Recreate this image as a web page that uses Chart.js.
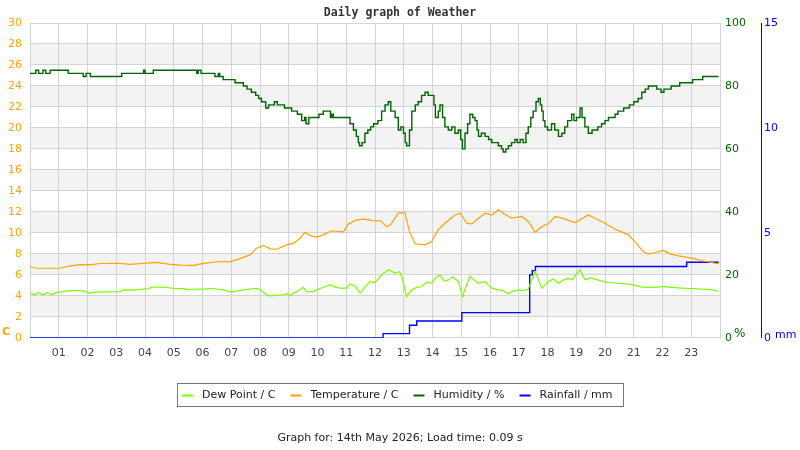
<!DOCTYPE html>
<html>
<head>
<meta charset="utf-8">
<title>Daily graph of Weather</title>
<script src="https://cdn.jsdelivr.net/npm/chart.js@4.4.1/dist/chart.umd.min.js"></script>
<style>
  html, body { margin: 0; padding: 0; background: #fff; }
  #wrap { width: 800px; height: 450px; }
</style>
</head>
<body>
<div id="wrap"><canvas id="chart" width="800" height="450"></canvas></div>
<script>
// x axis: hours of the day
const HOUR_LABELS = ['01','02','03','04','05','06','07','08','09','10','11','12',
  '13','14','15','16','17','18','19','20','21','22','23'];

// Dew point, C
const DEW_HOURS = [0,0.15,0.3,0.45,0.6,0.75,0.9,1.04,1.39,1.74,1.9,2.03,2.3,2.55,3.13,3.25,3.6,3.94,4.1,4.29,
  4.7,4.99,5.3,5.57,5.8,6.03,6.3,6.5,6.72,6.96,7.2,7.42,7.65,7.88,8.0,8.12,8.29,8.5,8.81,8.95,
  9.05,9.16,9.35,9.51,9.6,9.86,10.0,10.2,10.43,10.6,10.78,11.01,11.13,11.3,11.48,11.65,11.83,12.0,12.23,12.46,
  12.7,12.85,12.93,13.1,13.28,13.45,13.62,13.8,13.97,14.1,14.26,14.4,14.55,14.7,14.9,15.04,15.15,15.3,15.45,15.6,
  15.83,15.95,16.06,16.29,16.45,16.64,16.8,16.99,17.15,17.33,17.45,17.57,17.7,17.8,17.9,18.03,18.2,18.38,18.55,18.72,
  18.85,18.96,19.13,19.3,19.5,19.65,19.9,20.12,20.4,20.7,21.0,21.28,21.6,21.86,22.0,22.2,22.67,23.0,23.36,23.7,23.94];
const DEW_VALUES = [4.3,4.1,4.3,4.1,4.3,4.1,4.3,4.35,4.5,4.5,4.45,4.26,4.35,4.38,4.4,4.57,4.55,4.63,4.7,4.82,
  4.82,4.7,4.68,4.6,4.65,4.63,4.7,4.65,4.57,4.38,4.45,4.57,4.65,4.7,4.6,4.32,4.0,4.05,4.1,4.2,
  4.0,4.26,4.5,4.82,4.4,4.4,4.6,4.82,5.04,4.85,4.73,4.73,5.14,4.95,4.26,4.82,5.37,5.25,6.0,6.48,
  6.16,6.3,5.84,3.94,4.57,4.8,4.89,5.3,5.2,5.7,6.0,5.4,5.52,5.8,5.37,3.94,4.8,5.84,5.5,5.2,
  5.37,5.0,4.73,4.57,4.5,4.2,4.45,4.57,4.5,4.63,5.5,6.32,5.4,4.73,5.0,5.37,5.6,5.2,5.5,5.68,
  5.5,5.9,6.48,5.52,5.7,5.59,5.4,5.27,5.2,5.14,5.05,4.82,4.8,4.82,4.9,4.82,4.73,4.7,4.63,4.6,4.4];

// Temperature, C
const TEMP_HOURS = [0,0.1,0.25,1.04,1.39,1.74,2.09,2.43,3.13,3.48,3.94,4.4,4.87,5.22,5.68,6.03,6.61,6.96,7.3,7.65,
  7.88,8.12,8.35,8.58,8.93,9.16,9.39,9.57,9.74,9.97,10.2,10.49,10.9,11.07,11.36,11.6,11.94,12.2,12.4,12.55,
  12.81,13.04,13.2,13.4,13.74,13.97,14.2,14.43,14.78,14.96,15.19,15.36,15.6,15.83,16.06,16.29,16.46,16.75,17.1,17.33,
  17.57,17.8,18.03,18.26,18.49,18.96,19.42,19.65,20.0,20.35,20.81,21.04,21.33,21.5,21.74,22.03,22.26,22.55,23.01,23.36,23.95];
const TEMP_VALUES = [6.8,6.7,6.63,6.63,6.86,6.98,6.95,7.08,7.1,7.0,7.1,7.18,7.0,6.92,6.9,7.1,7.27,7.24,7.55,7.9,
  8.54,8.79,8.48,8.44,8.86,9.0,9.49,10.06,9.74,9.59,9.81,10.2,10.1,10.86,11.24,11.3,11.17,11.15,10.6,10.8,
  11.9,11.9,10.1,8.95,8.86,9.17,10.3,10.92,11.7,11.87,10.92,10.86,11.4,11.87,11.7,12.2,11.87,11.4,11.56,11.08,
  10.06,10.6,10.86,11.56,11.4,10.98,11.7,11.4,10.92,10.35,9.81,9.17,8.22,7.97,8.13,8.32,8.0,7.81,7.59,7.37,7.05];

// Humidity, %  (stepped readings)
const HUM_HOURS = [0,0.2,0.3,0.45,0.55,0.7,1.33,1.85,1.95,2.1,3.19,3.95,4.0,4.29,5.8,5.85,5.95,6.43,6.55,6.6,
  6.72,7.13,7.42,7.55,7.7,7.85,7.95,8.05,8.2,8.3,8.5,8.6,8.85,9.1,9.3,9.45,9.55,9.6,9.7,10.05,
  10.2,10.45,10.5,10.55,11.13,11.25,11.35,11.42,11.46,11.55,11.65,11.75,11.85,11.95,12.1,12.23,12.35,12.46,12.55,12.7,
  12.81,12.9,12.99,13.05,13.1,13.2,13.28,13.4,13.5,13.62,13.74,13.85,14.05,14.1,14.2,14.26,14.35,14.43,14.55,14.67,
  14.78,14.9,14.98,15.04,15.13,15.22,15.3,15.4,15.48,15.55,15.6,15.7,15.83,15.95,16.06,16.29,16.4,16.46,16.55,16.64,
  16.75,16.87,16.95,17.05,17.15,17.25,17.33,17.42,17.5,17.6,17.68,17.75,17.8,17.85,17.91,18.0,18.14,18.25,18.38,18.5,
  18.6,18.7,18.84,18.92,19.01,19.13,19.2,19.3,19.42,19.55,19.75,19.88,20.0,20.12,20.35,20.45,20.65,20.85,21.0,21.15,
  21.28,21.4,21.51,21.8,21.95,22.05,22.3,22.6,23.05,23.4,23.95];
const HUM_VALUES = [84,85,84,85,84,85,84,83,84,83,84,85,84,85,84,85,84,83,84,83,
  82,81,80,79,78,77,76,75,73,74,75,74,73,72,71,69,70,68,70,71,
  72,70,71,70,68,66,64,62,61,62,65,66,67,68,69,72,74,75,72,70,
  66,67,65,62,61,66,72,74,75,77,78,77,74,70,72,74,70,67,66,67,
  65,66,63,60,65,68,71,70,69,66,64,65,64,63,62,61,60,59,60,61,
  62,63,62,63,62,65,67,70,72,75,76,74,72,69,67,66,68,66,64,65,
  67,69,71,69,70,73,70,67,65,66,67,68,69,70,71,72,73,74,75,76,
  78,79,80,79,78,79,80,81,82,83,83];

// Rainfall, mm (cumulative)
const RAIN_HOURS = [0,12.28,13.2,13.45,15.02,17.38,17.47,17.58,22.84,23.95];
const RAIN_VALUES = [0,0.2,0.6,0.8,1.2,3.0,3.2,3.4,3.6,3.6];

function toPoints(xs, ys){
  return xs.map((x, i) => ({ x: x, y: ys[i] }));
}

const GRID = '#d4d4d4';
const FONT = { family: 'DejaVu Sans', size: 11 };

// bands, unit labels and the boxed legend
const decor = {
  id: 'decor',
  beforeDraw(chart){
    const ctx = chart.ctx, a = chart.chartArea, y = chart.scales.y;
    ctx.save();
    ctx.fillStyle = '#fff';
    ctx.fillRect(0, 0, chart.width, chart.height);
    ctx.fillStyle = '#f3f3f3';
    for(let v = 2; v < 30; v += 4){
      const t = y.getPixelForValue(v + 2), b = y.getPixelForValue(v);
      ctx.fillRect(a.left, t, a.right - a.left, b - t);
    }
    ctx.restore();
  },
  afterDraw(chart){
    const ctx = chart.ctx;
    ctx.save();
    ctx.textBaseline = 'middle';
    ctx.textAlign = 'left';
    ctx.font = 'bold 11px "DejaVu Sans"';
    ctx.fillStyle = '#ffa500';
    ctx.fillText('C', 2, 332);
    ctx.font = '12px "DejaVu Sans"';
    ctx.fillStyle = '#006400';
    ctx.fillText('%', 734, 334);
    ctx.font = '11px "DejaVu Sans"';
    ctx.fillStyle = '#0000ff';
    ctx.fillText('mm', 775, 335);

    // legend
    ctx.strokeStyle = '#777';
    ctx.lineWidth = 1;
    ctx.strokeRect(177.5, 383.5, 446, 23);
    let x = 182;
    const cy = 395.5;
    ctx.font = '11px "DejaVu Sans"';
    chart.data.datasets.forEach(ds => {
      ctx.fillStyle = ds.borderColor;
      ctx.fillRect(x, cy - 1, 11, 2);
      x += 20;
      ctx.fillStyle = '#222';
      ctx.fillText(ds.label, x, cy);
      x += ctx.measureText(ds.label).width + 15;
    });
    ctx.restore();
  }
};

new Chart(document.getElementById('chart'), {
  type: 'line',
  data: {
    datasets: [
      { label: 'Dew Point / C', data: toPoints(DEW_HOURS, DEW_VALUES), yAxisID: 'y',
        borderColor: '#7cfc00', backgroundColor: '#7cfc00', borderWidth: 1.2 },
      { label: 'Temperature / C', data: toPoints(TEMP_HOURS, TEMP_VALUES), yAxisID: 'y',
        borderColor: '#ffa500', backgroundColor: '#ffa500', borderWidth: 1.2 },
      { label: 'Humidity / %', data: toPoints(HUM_HOURS, HUM_VALUES), yAxisID: 'yHum', stepped: true,
        borderColor: '#006400', backgroundColor: '#006400', borderWidth: 1.4 },
      { label: 'Rainfall / mm', data: toPoints(RAIN_HOURS, RAIN_VALUES), yAxisID: 'yRain', stepped: true,
        borderColor: '#0000ff', backgroundColor: '#0000ff', borderWidth: 1.4 }
    ]
  },
  options: {
    responsive: false,
    devicePixelRatio: 1,
    animation: false,
    elements: { point: { radius: 0 }, line: { tension: 0 } },
    plugins: {
      legend: { display: false },
      tooltip: { enabled: false },
      title: {
        display: true, text: 'Daily graph of Weather', color: '#333',
        font: { family: 'DejaVu Sans Mono', size: 11.5, weight: 'bold', lineHeight: 1.2 },
        padding: { top: 6, bottom: 3.2 }
      },
      subtitle: {
        display: true, position: 'bottom', text: 'Graph for: 14th May 2026; Load time: 0.09 s', color: '#222',
        font: { family: 'DejaVu Sans', size: 11, lineHeight: 1.2 },
        padding: { top: 64, bottom: 5 }
      }
    },
    scales: {
      x: {
        type: 'linear', min: 0, max: 24,
        ticks: { stepSize: 1, maxTicksLimit: 30, autoSkip: false, maxRotation: 0, padding: 9,
          color: '#444', font: FONT,
          callback: v => HOUR_LABELS[v - 1] || '' },
        grid: { color: GRID, drawTicks: false },
        border: { color: GRID },
        afterFit(s){ s.height = 30; }
      },
      y: {
        position: 'left', min: 0, max: 30,
        ticks: { stepSize: 2, padding: 8, color: '#ffa500', font: FONT },
        grid: { color: GRID, drawTicks: false },
        border: { color: GRID },
        afterFit(s){ s.width = 30; }
      },
      yHum: {
        position: 'right', min: 0, max: 100,
        ticks: { stepSize: 20, padding: 5, color: '#006400', font: FONT },
        grid: { drawOnChartArea: false, drawTicks: false },
        border: { color: GRID },
        afterFit(s){ s.width = 41; }
      },
      yRain: {
        position: 'right', min: 0, max: 15,
        ticks: { stepSize: 5, padding: 3, color: '#0000ff', font: FONT },
        grid: { drawOnChartArea: false, drawTicks: false },
        border: { color: '#0000ff' },
        afterFit(s){ s.width = 39; }
      }
    }
  },
  plugins: [decor]
});
</script>
</body>
</html>
